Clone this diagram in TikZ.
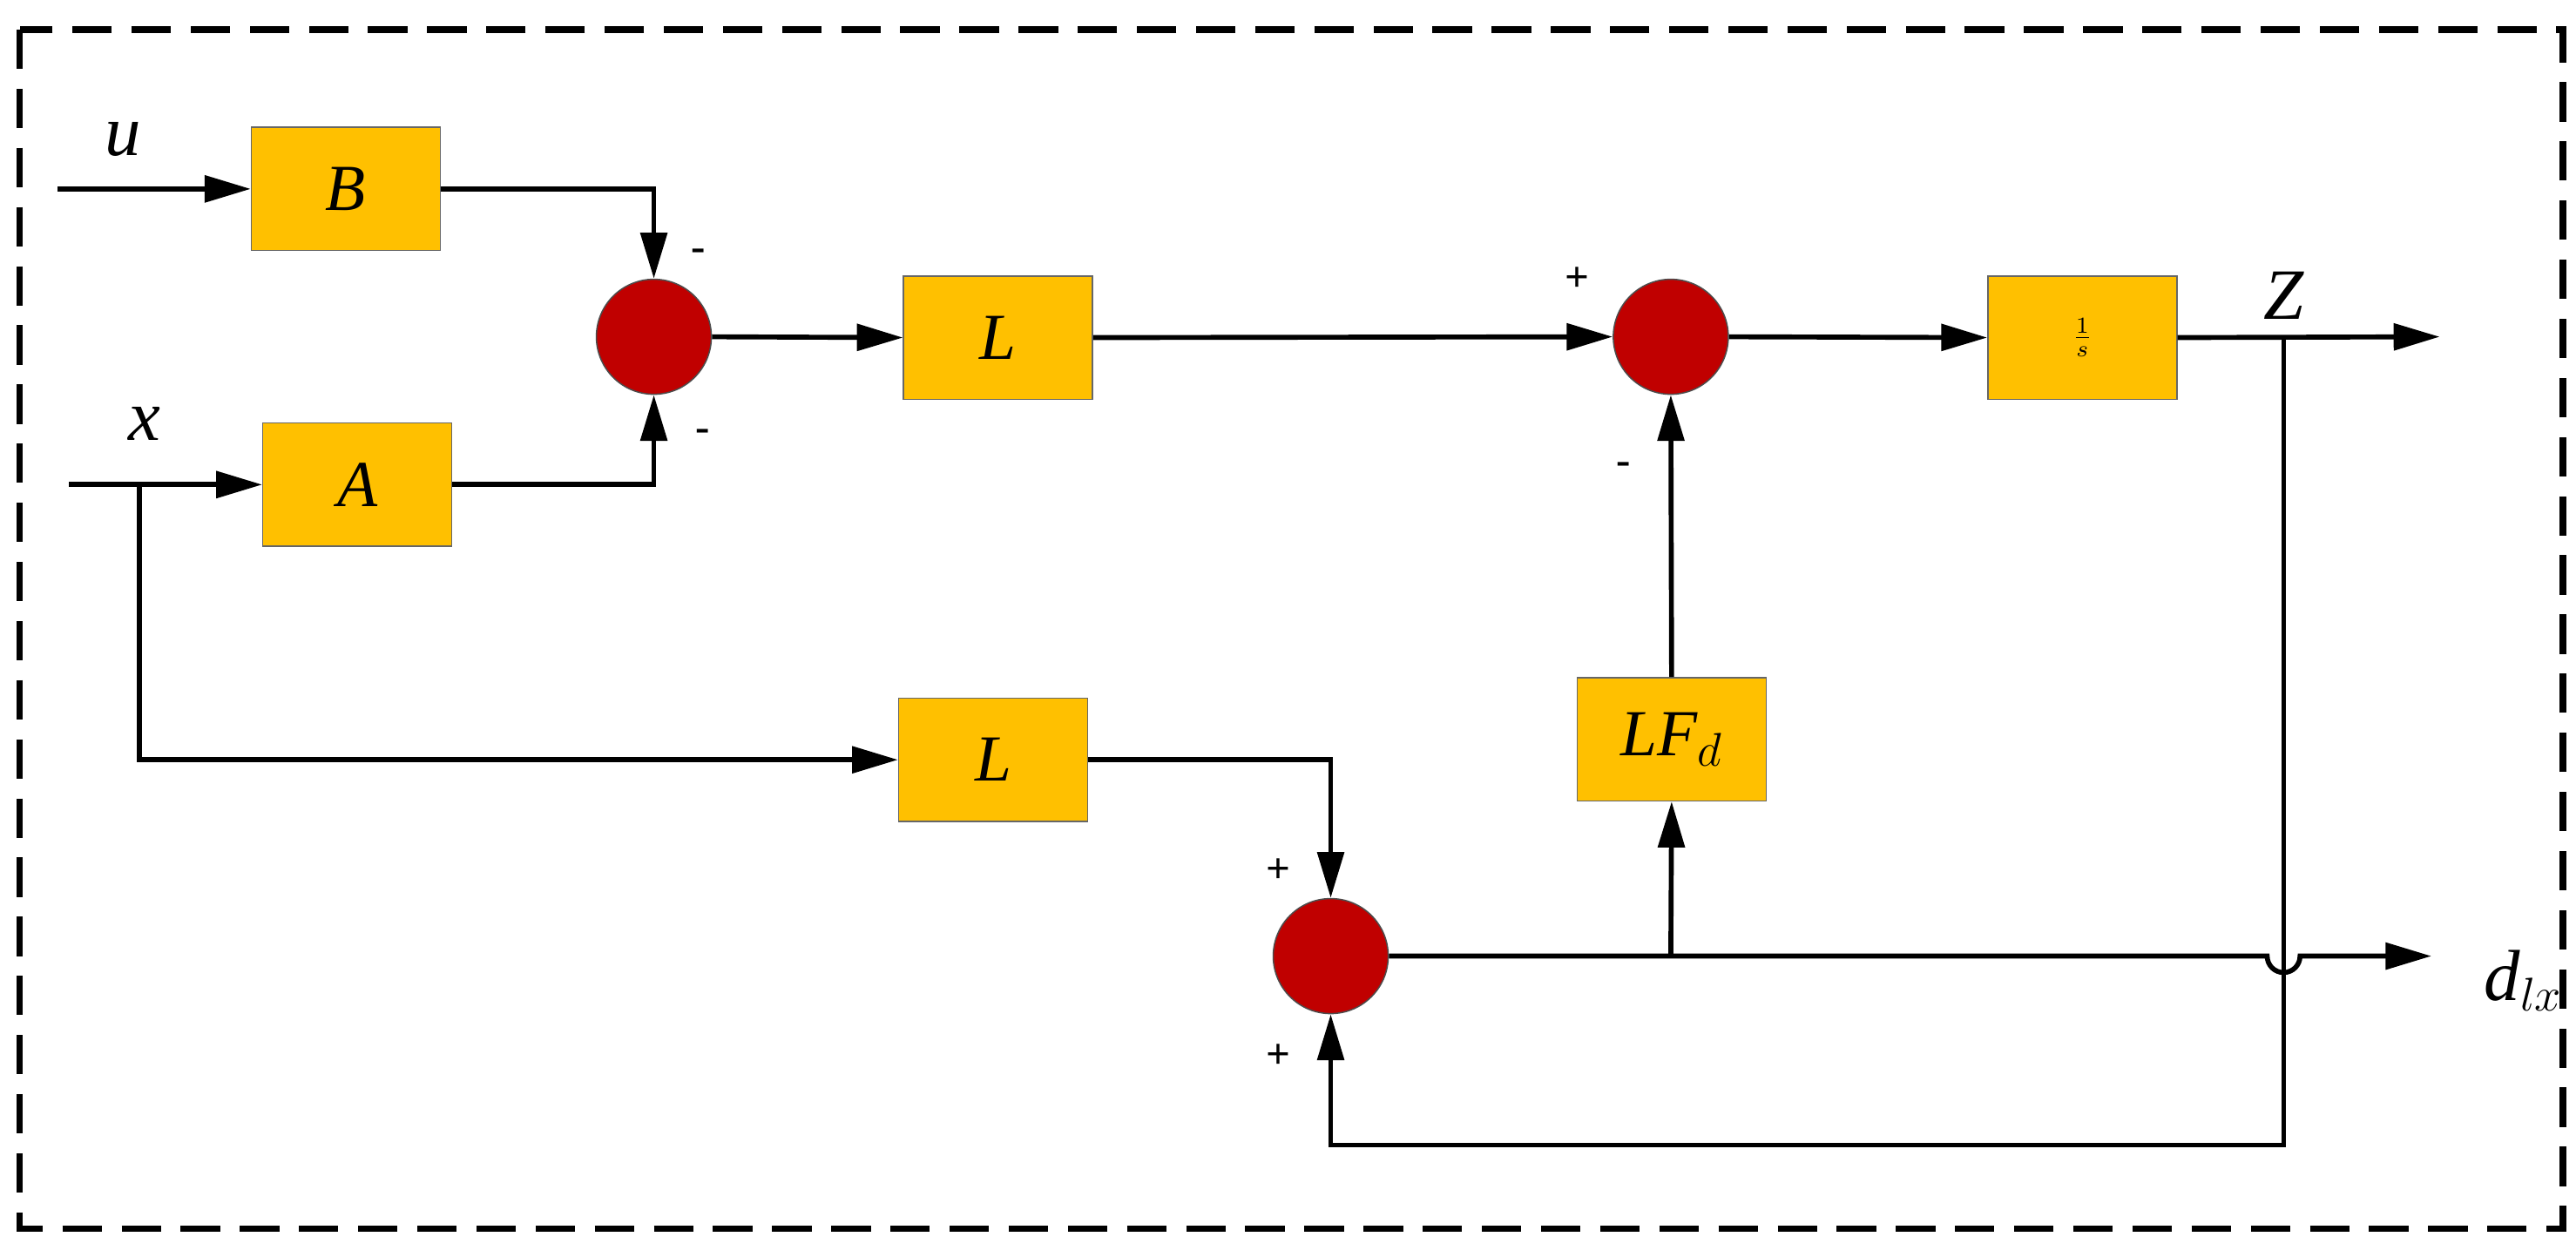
\documentclass[tikz,border=0pt]{standalone}
\usepackage{fontspec}
\setmainfont{Liberation Serif}
\usetikzlibrary{arrows.meta}
\definecolor{bx}{HTML}{FFC000}
\definecolor{sm}{HTML}{C00000}
\begin{document}
\begin{tikzpicture}[x=0.5pt,y=-0.5pt,
 blk/.style={draw=black!60,fill=bx,minimum width=57.5pt,minimum height=37.5pt,inner sep=0pt,font=\fontsize{20}{20}\selectfont\itshape},
 sum/.style={circle,draw=black!70,fill=sm,minimum size=35pt,inner sep=0pt},
 ln/.style={line width=1.5pt},
 ar/.style={ln,-{Triangle[length=14pt,width=8pt]}},
 sg/.style={font=\fontsize{13}{13}\selectfont\bfseries},
 lb/.style={font=\fontsize{22}{22}\selectfont\itshape}]
\useasboundingbox (0,0) rectangle (1568,765);
\draw[line width=2pt,dash pattern=on 12pt off 6pt] (12,18) rectangle (1560,748);
\node[blk] (B) at (210.5,115) {B};
\node[blk] (A) at (217.5,295) {A};
\node[sum] (s1) at (398,205) {};
\node[blk] (L1) at (607.5,205.5) {L};
\node[sum] (s2) at (1017,205) {};
\node[blk,font=\fontsize{10}{10}\selectfont\itshape] (I) at (1267.5,205.5) {$\frac{1}{s}$};
\node[blk] (L2) at (604.5,462.5) {L};
\node[sum] (s3) at (810,582) {};
\node[blk] (LF) at (1017.5,450) {LF$_d$};
\coordinate (uin) at (35,115); \coordinate (xin) at (42,295);
\coordinate (xb) at (85,295); \coordinate (zb) at (1390,205);
\coordinate (zout) at (1485,205); \coordinate (dout) at (1480,582);
\coordinate (db) at (1017,582);
\node[lb] at (75,85) {u};
\node[lb] at (88,258) {x};
\node[lb] at (1390,180) {Z};
\node[lb,anchor=west] at (1505,597) {d$_{lx}$};
\draw[ar] (uin) -- (B.west);
\draw[ar] (xin) -- (A.west);
\draw[ar] (B.east) -| (s1.north);
\draw[ar] (A.east) -| (s1.south);
\draw[ar] (s1.east) -- (L1.west);
\draw[ar] (L1.east) -- (s2.west);
\draw[ar] (s2.east) -- (I.west);
\draw[ar] (I.east) -- (zout);
\draw[ar] (xb) |- (L2.west);
\draw[ar] (L2.east) -| (s3.north);
\draw[ar] (zb) -- (1390,697) -| (s3.south);
\draw[ar] (s3.east) -- (1380,582) arc[start angle=180,end angle=0,radius=10] -- (dout);
\draw[ar] (db) -- (LF.south);
\draw[ar] (LF.north) -- (s2.south);
\node[sg] at (425,155) {-};
\node[sg] at (428,265) {-};
\node[sg] at (960,170) {+};
\node[sg] at (988,285) {-};
\node[sg] at (778,530) {+};
\node[sg] at (778,643) {+};
\end{tikzpicture}
\end{document}
